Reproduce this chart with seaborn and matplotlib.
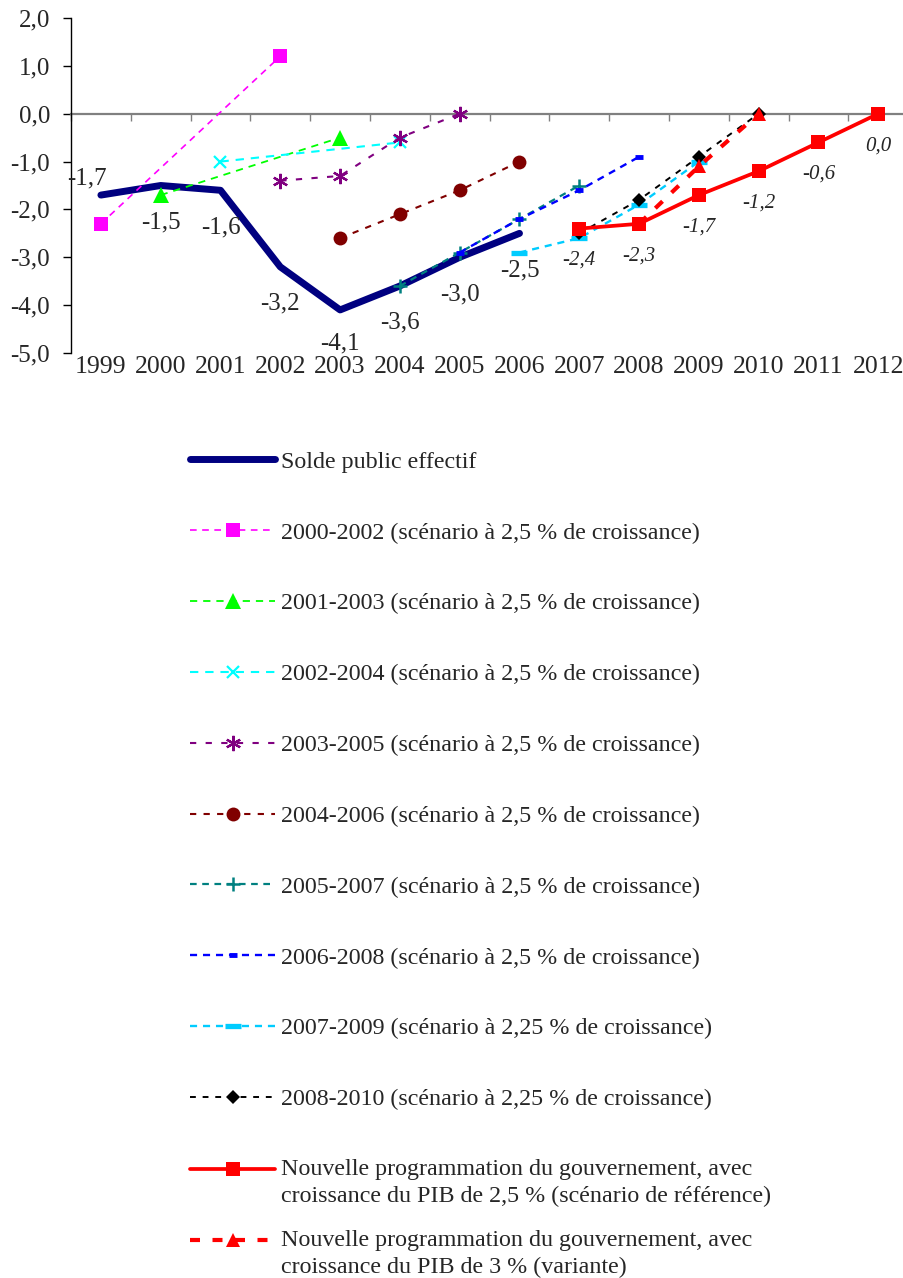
import numpy as np
import pandas as pd
import matplotlib
matplotlib.use("Agg")
import matplotlib.pyplot as plt
import seaborn as sns
from matplotlib.offsetbox import HPacker

# ---- data -------------------------------------------------------------
years = list(range(1999, 2013))

solde_years = [1999, 2000, 2001, 2002, 2003, 2004, 2005, 2006]
solde_values = [-1.7, -1.5, -1.6, -3.2, -4.1, -3.6, -3.0, -2.5]

p2000_years = [1999, 2002]
p2000_values = [-2.3, 1.2]

p2001_years = [2000, 2003]
p2001_values = [-1.7, -0.5]

p2002_years = [2001, 2004]
p2002_values = [-1.0, -0.6]

p2003_years = [2002, 2003, 2004, 2005]
p2003_values = [-1.4, -1.3, -0.5, 0.0]

p2004_years = [2003, 2004, 2005, 2006]
p2004_values = [-2.6, -2.1, -1.6, -1.0]

p2005_years = [2004, 2005, 2006, 2007]
p2005_values = [-3.6, -2.9, -2.2, -1.5]

p2006_years = [2005, 2006, 2007, 2008]
p2006_values = [-2.9, -2.2, -1.6, -0.9]

p2007_years = [2006, 2007, 2008, 2009]
p2007_values = [-2.9, -2.6, -1.9, -1.0]

p2008_years = [2007, 2008, 2009, 2010]
p2008_values = [-2.5, -1.8, -0.9, 0.0]

ref_years = [2007, 2008, 2009, 2010, 2011, 2012]
ref_values = [-2.4, -2.3, -1.7, -1.2, -0.6, 0.0]

var_years = [2008, 2009, 2010]
var_values = [-2.3, -1.1, 0.0]

y_ticks = [-5, -4, -3, -2, -1, 0, 1, 2]

labels = [
    "Solde public effectif",
    "2000-2002 (scénario à 2,5 % de croissance)",
    "2001-2003 (scénario à 2,5 % de croissance)",
    "2002-2004 (scénario à 2,5 % de croissance)",
    "2003-2005 (scénario à 2,5 % de croissance)",
    "2004-2006 (scénario à 2,5 % de croissance)",
    "2005-2007 (scénario à 2,5 % de croissance)",
    "2006-2008 (scénario à 2,5 % de croissance)",
    "2007-2009 (scénario à 2,25 % de croissance)",
    "2008-2010 (scénario à 2,25 % de croissance)",
    "Nouvelle programmation du gouvernement, avec\n"
    "croissance du PIB de 2,5 % (scénario de référence)",
    "Nouvelle programmation du gouvernement, avec\n"
    "croissance du PIB de 3 % (variante)",
]

series = [
    (solde_years, solde_values), (p2000_years, p2000_values),
    (p2001_years, p2001_values), (p2002_years, p2002_values),
    (p2003_years, p2003_values), (p2004_years, p2004_values),
    (p2005_years, p2005_values), (p2006_years, p2006_values),
    (p2007_years, p2007_values), (p2008_years, p2008_values),
    (ref_years, ref_values), (var_years, var_values),
]

# ---- styles -----------------------------------------------------------
asterisk = (6, 2, 0)
styles = [
    dict(color="#000080", lw=5.0, ls="-", marker=None, ms=0, mew=0,
         solid_capstyle="round", zorder=2.0),
    dict(color="#FF00FF", lw=1.2, ls=(0, (4, 3.3)), marker="s", ms=10, mew=0, zorder=2.1),
    dict(color="#00FF00", lw=1.3, ls=(0, (4, 3.3)), marker="^", ms=11, mew=0, zorder=2.1),
    dict(color="#00FFFF", lw=1.5, ls=(0, (4, 3.3)), marker="x", ms=9, mew=1.6, zorder=2.1),
    dict(color="#800080", lw=1.5, ls=(0, (3, 4.5)), marker=asterisk, ms=11, mew=1.6, zorder=2.1),
    dict(color="#800000", lw=1.5, ls=(0, (3, 3.5)), marker="o", ms=10, mew=0, zorder=2.1),
    dict(color="#008080", lw=1.6, ls=(0, (3, 2.5)), marker="+", ms=10, mew=1.8, zorder=2.2),
    dict(color="#0000FF", lw=1.7, ls=(0, (3, 2.5)), marker="_", ms=6, mew=3.5, zorder=2.2),
    dict(color="#00CCFF", lw=1.7, ls=(0, (3, 2.5)), marker="_", ms=11, mew=3.8, zorder=2.1),
    dict(color="#000000", lw=1.4, ls=(0, (3, 3.5)), marker="D", ms=7.5, mew=0, zorder=2.3),
    dict(color="#FF0000", lw=2.7, ls="-", marker="s", ms=10, mew=0, zorder=2.8),
    dict(color="#FF0000", lw=3.0, ls=(0, (2.4, 3.0)), marker="^", ms=10, mew=0, zorder=2.6),
]

sns.set_style("white")
plt.rcParams["font.family"] = ["Liberation Serif", "DejaVu Serif"]

W, H = 904, 1278
fig = plt.figure(figsize=(W / 100, H / 100), dpi=100)
ax = fig.add_axes([71 / W, 1 - 353 / H, 1 - 71 / W, (353 - 18) / H])

for (yrs, vals), name, st in zip(series, labels, styles):
    df = pd.DataFrame({"pos": [years.index(y) for y in yrs], "value": vals})
    kw = dict(color=st["color"], lw=st["lw"], linestyle=st["ls"],
              markeredgecolor=st["color"], markeredgewidth=st["mew"],
              zorder=st["zorder"], dash_capstyle="butt", clip_on=False)
    if st["marker"] is not None:
        kw["marker"] = st["marker"]
        kw["markersize"] = st["ms"]
    if "solid_capstyle" in st:
        kw["solid_capstyle"] = st["solid_capstyle"]
    sns.lineplot(data=df, x="pos", y="value", ax=ax, legend=False,
                 label=name, **kw)

# ---- axes -------------------------------------------------------------
ax.set_xlim(-0.5, 13.43)
ax.set_ylim(-5, 2)
ax.set_xlabel("")
ax.set_ylabel("")
for side in ("top", "right"):
    ax.spines[side].set_visible(False)
ax.spines["bottom"].set_position(("data", 0))
ax.spines["bottom"].set_color("#808080")
ax.spines["bottom"].set_linewidth(1.6)
ax.spines["bottom"].set_zorder(1)
ax.spines["left"].set_color("#000000")
ax.spines["left"].set_linewidth(1.0)

ax.set_xticks(np.arange(-0.5, len(years) - 1, 1.0))
ax.tick_params(axis="x", bottom=True, length=5, width=1, color="#808080",
               direction="out", labelbottom=False)
ax.set_yticks(y_ticks)
ax.set_yticklabels([f"{v:.1f}".replace(".", ",") for v in y_ticks])
ax.tick_params(axis="y", left=True, length=6, width=1, color="#000000",
               direction="out", pad=9, labelsize=18)

# category labels under the plot area
for i, yr in enumerate(years):
    ax.annotate(str(yr), xy=(i, 0), xycoords=("data", "axes fraction"),
                xytext=(0, -10.3), textcoords="offset points",
                ha="center", va="center", fontsize=18.5)

def fmt(v):
    return f"{v:.1f}".replace(".", ",")

# value labels of the actual balance
for k, (yr, v) in enumerate(zip(solde_years, solde_values)):
    if k == 0:
        off = (-10, 12)
    elif v <= -4:
        off = (0, -24)
    else:
        off = (0, -26.5)
    ax.annotate(fmt(v), xy=(years.index(yr), v), xytext=off,
                textcoords="offset points", ha="center", va="center",
                fontsize=18, zorder=5)

# value labels of the new programme
for yr, v in zip(ref_years, ref_values):
    ax.annotate(fmt(v), xy=(years.index(yr), v), xytext=(0, -23),
                textcoords="offset points", ha="center", va="center",
                fontsize=15, style="italic", zorder=5)

# ---- legend -----------------------------------------------------------
handles, names = ax.get_legend_handles_labels()
common = dict(loc="upper left", frameon=False, fontsize=17.3, handlelength=3.55,
              handletextpad=0.25, borderpad=0, borderaxespad=0, numpoints=1)
leg1 = fig.legend(handles[:10], names[:10], bbox_to_anchor=(190 / W, 1 - 451 / H),
                  labelspacing=2.04, **common)
leg2 = fig.legend(handles[10:], names[10:], bbox_to_anchor=(190 / W, 1 - 1159 / H),
                  labelspacing=0.97, handleheight=1.1, **common)
for t in leg2.get_texts():
    t.set_linespacing(1.36)
for hp in leg2.findobj(HPacker):
    hp.align = "top"

fig.savefig("out.png", dpi=100)
